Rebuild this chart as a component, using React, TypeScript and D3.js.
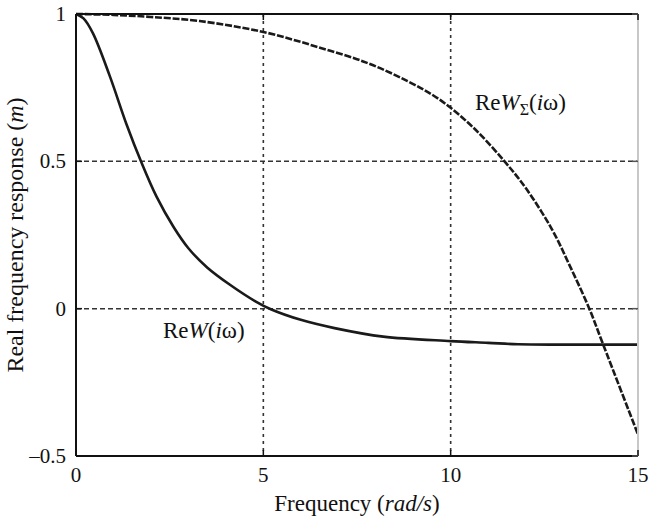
import React from "react";
import * as d3 from "d3";

// Frequency grid (rad/s) and real parts of the two frequency responses
const omegaW = [0, 0.2, 0.45, 0.9, 1.35, 1.75, 2.15, 2.6, 3.0, 3.5, 4.1, 4.8, 5.2, 6.0, 6.9, 8.2, 10.0, 11.0, 11.8, 13.0, 15.0];
const reW = [1, 0.985, 0.935, 0.79, 0.625, 0.495, 0.38, 0.278, 0.205, 0.14, 0.082, 0.024, -0.002, -0.038, -0.066, -0.095, -0.11, -0.116, -0.121, -0.122, -0.122];

const omegaSum = [0, 1, 2, 3.3, 5, 6.4, 7.75, 8.85, 9.7, 10.6, 11.45, 12.0, 12.7, 13.2, 13.7, 14.05, 15.0];
const reWSum = [1, 0.997, 0.99, 0.976, 0.939, 0.89, 0.835, 0.772, 0.71, 0.615, 0.498, 0.41, 0.27, 0.14, 0.0, -0.115, -0.427];

const xTicks = [0, 5, 10, 15];
const yTicks = [-0.5, 0, 0.5, 1];
const yTickLabels = ["\u20130.5", "0", "0.5", "1"];
const xGrid = [5, 10];
const yGrid = [0, 0.5];

const W = 649;
const H = 525;
const margin = { left: 76, right: 11, top: 14, bottom: 69 };
const FONT = "'Liberation Serif', 'DejaVu Serif', serif";

export default function App() {
  const x = d3.scaleLinear().domain([0, 15]).range([margin.left, W - margin.right]);
  const y = d3.scaleLinear().domain([-0.5, 1]).range([H - margin.bottom, margin.top]);

  const line = d3
    .line<[number, number]>()
    .x((d) => x(d[0]))
    .y((d) => y(d[1]))
    .curve(d3.curveCatmullRom.alpha(0.5));

  const pathW = line(omegaW.map((w, i) => [w, reW[i]] as [number, number])) || "";
  const pathSum = line(omegaSum.map((w, i) => [w, reWSum[i]] as [number, number])) || "";

  const [x0, x1] = x.range();
  const [y0, y1] = y.range(); // y0 bottom, y1 top
  const tick = 6;

  return (
    <svg width={W} height={H} style={{ position: "absolute", left: 0, top: 0, background: "#fff" }} fontFamily={FONT}>
      <rect x={0} y={0} width={W} height={H} fill="#fff" />
      {/* grid */}
      {xGrid.map((v) => (
        <line key={"gx" + v} x1={x(v)} x2={x(v)} y1={y1} y2={y0} stroke="#333" strokeWidth={1.6} strokeDasharray="3,4" />
      ))}
      {yGrid.map((v) => (
        <line key={"gy" + v} x1={x0} x2={x1} y1={y(v)} y2={y(v)} stroke="#333" strokeWidth={1.5} strokeDasharray="5,3" />
      ))}

      {/* curves */}
      <path d={pathW} fill="none" stroke="#1a1a1a" strokeWidth={2.6} />
      <path d={pathSum} fill="none" stroke="#1a1a1a" strokeWidth={2.6} strokeDasharray="7,1.8" />

      {/* frame */}
      <line x1={x1} x2={x1} y1={y1} y2={y0} stroke="#c8c8c8" strokeWidth={2} />
      <line x1={x0} x2={x1} y1={y1} y2={y1} stroke="#111" strokeWidth={2} />
      <line x1={x0} x2={x1} y1={y0} y2={y0} stroke="#111" strokeWidth={2} />
      <line x1={x0} x2={x0} y1={y1} y2={y0} stroke="#111" strokeWidth={2} />

      {/* ticks */}
      {xTicks.map((v) => (
        <g key={"tx" + v}>
          <line x1={x(v)} x2={x(v)} y1={y0} y2={y0 - tick} stroke="#111" strokeWidth={1.5} />
          <line x1={x(v)} x2={x(v)} y1={y1} y2={y1 + tick} stroke="#111" strokeWidth={1.5} />
          <text x={x(v)} y={y0 + 26} textAnchor="middle" fontSize={21} fill="#111">
            {v}
          </text>
        </g>
      ))}
      {yTicks.map((v, i) => (
        <g key={"ty" + v}>
          <line x1={x0} x2={x0 + tick} y1={y(v)} y2={y(v)} stroke="#111" strokeWidth={1.5} />
          <line x1={x1} x2={x1 - tick} y1={y(v)} y2={y(v)} stroke="#555" strokeWidth={1.5} />
          <text x={x0 - 10} y={y(v) + 7} textAnchor="end" fontSize={21} fill="#111">
            {yTickLabels[i]}
          </text>
        </g>
      ))}

      {/* axis titles */}
      <text x={(x0 + x1) / 2} y={511} textAnchor="middle" fontSize={23} fill="#111">
        Frequency (<tspan fontStyle="italic">rad/s</tspan>)
      </text>
      <text transform={`translate(23, ${(y0 + y1) / 2}) rotate(-90)`} textAnchor="middle" fontSize={24} fill="#111">
        Real frequency response (<tspan fontStyle="italic">m</tspan>)
      </text>

      {/* curve labels */}
      <text x={163} y={338} fontSize={23} fill="#111">
        Re<tspan fontStyle="italic">W</tspan>(<tspan fontStyle="italic">i</tspan>ω)
      </text>
      <text x={475} y={110} fontSize={23} fill="#111">
        Re<tspan fontStyle="italic">W</tspan>
        <tspan fontSize={16} dy={5}>Σ</tspan>
        <tspan dy={-5}>(</tspan>
        <tspan fontStyle="italic">i</tspan>ω)
      </text>
    </svg>
  );
}
